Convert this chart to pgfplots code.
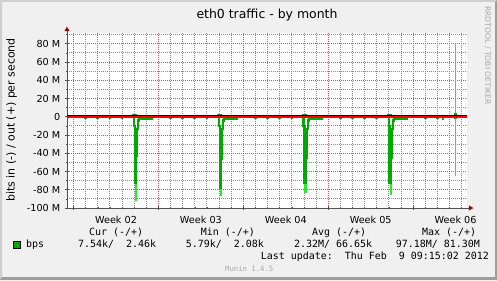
\documentclass[border=0pt]{standalone}
\usepackage{fontspec}
\setmainfont{DejaVu Sans}
\newfontfamily\monofont{DejaVu Sans Mono}
\usepackage{pgfplots}
\pgfplotsset{compat=1.18}
\usetikzlibrary{arrows.meta}
\definecolor{bgc}{HTML}{F0F0F0}
\definecolor{shadea}{HTML}{CFCFCF}
\definecolor{shadeb}{HTML}{9E9E9E}
\definecolor{mgrid}{HTML}{E05050}
\definecolor{gridc}{HTML}{8C8C8C}
\definecolor{axc}{HTML}{555050}
\definecolor{arrowc}{HTML}{A00000}
\definecolor{dkgreen}{HTML}{00AA00}
\definecolor{ltgreen}{HTML}{22EE22}
\definecolor{fontgray}{HTML}{A8A8A8}
\begin{document}
\begin{tikzpicture}[x=1bp,y=1bp]
\fill[bgc] (0,0) rectangle (497,280);
\fill[shadea] (0,0) -- (0,280) -- (497,280) -- (495,278) -- (2,278) -- (2,3) -- cycle;
\fill[shadeb] (0,0) -- (497,0) -- (497,280) -- (495,278) -- (495,3) -- (2,3) -- cycle;
\fill[white] (67,72) rectangle (467,246.9);
\begin{axis}[
  at={(67bp,72bp)}, anchor=south west,
  scale only axis, width=400bp, height=175bp,
  xmin=0, xmax=32.98, ymin=-100, ymax=91.8,
  axis x line*=bottom, axis y line*=left,
  axis line style={draw=axc, line width=0.8bp},
  x axis line style={shorten >=-6.3bp, -{Triangle[length=4.5bp,width=5bp,color=arrowc]}},
  y axis line style={shorten >=-6.3bp, -{Triangle[length=4.5bp,width=5bp,color=arrowc]}},
  xtick={0.54,7.54,14.54,21.54,28.54}, xticklabels={},
  minor xtick={1.54,2.54,3.54,4.54,5.54,6.54,8.54,9.54,10.54,11.54,12.54,13.54,15.54,16.54,17.54,18.54,19.54,20.54,22.54,23.54,24.54,25.54,26.54,27.54,29.54,30.54,31.54,32.54},
  extra x ticks={4.04,11.04,18.04,25.04,32.04},
  extra x tick labels={Week 02,Week 03,Week 04,Week 05,Week 06},
  extra x tick style={xmajorgrids=false, major tick length=0pt},
  ytick={-100,-80,-60,-40,-20,0,20,40,60,80},
  yticklabels={-100 M,-80 M,-60 M,-40 M,-20 M,0\hspace{5bp},20 M,40 M,60 M,80 M},
  minor ytick={-90,-70,-50,-30,-10,10,30,50,70,90},
  xmajorgrids=true, xminorgrids=true, ymajorgrids=true, yminorgrids=true,
  major grid style={draw=mgrid, dash pattern=on 1bp off 1bp, line width=1bp},
  minor grid style={draw=gridc, dash pattern=on 1bp off 1bp, line width=1bp},
  tick align=center, major tick length=4bp, minor tick length=2.5bp,
  tick style={draw=axc, line width=0.6bp},
  ticklabel style={font=\fontsize{9.7}{11}\selectfont, text=black, inner sep=0pt},
  yticklabel style={xshift=-4.5bp},
  xticklabel style={yshift=-8bp},
]
% bright (max) parts
\addplot[ltgreen, line width=2.2bp, forget plot, unbounded coords=jump] coordinates {
(5.70,-64) (5.70,-92) (5.70,nan)
(12.67,-72) (12.67,-87) (12.67,nan)
(19.67,-68) (19.67,-84) (19.67,nan)
(26.69,-68) (26.69,-86)
};
\addplot[ltgreen, line width=1.5bp, forget plot] coordinates {(32.03,81.3) (32.03,-65.4)};
% in (negative)
\addplot[dkgreen, line width=2.2bp, forget plot] coordinates {
(0,0)
(1.52,0)(1.52,-1.2)(1.56,-1.2)(1.56,0)
(2.52,0)(2.52,-1.2)(2.56,-1.2)(2.56,0)
(3.52,0)(3.52,-1.2)(3.56,-1.2)(3.56,0)
(4.52,0)(4.52,-1.2)(4.56,-1.2)(4.56,0)
(5.525,0)(5.525,-10)(5.607,-10)(5.607,-73)(5.69,-73)(5.69,-43)(5.79,-43)(5.79,-13)(5.87,-13)(5.87,-4)(5.95,-4)(5.95,-2)(7.02,-2)(7.02,0)
(8.52,0)(8.52,-1.2)(8.56,-1.2)(8.56,0)
(9.52,0)(9.52,-1.2)(9.56,-1.2)(9.56,0)
(10.52,0)(10.52,-1.2)(10.56,-1.2)(10.56,0)
(11.52,0)(11.52,-1.2)(11.56,-1.2)(11.56,0)
(12.50,0)(12.50,-10)(12.582,-10)(12.582,-78)(12.665,-78)(12.665,-46)(12.765,-46)(12.765,-13)(12.845,-13)(12.845,-4)(12.925,-4)(12.925,-2)(13.995,-2)(13.995,0)
(15.52,0)(15.52,-1.2)(15.56,-1.2)(15.56,0)
(16.52,0)(16.52,-1.2)(16.56,-1.2)(16.56,0)
(17.52,0)(17.52,-1.2)(17.56,-1.2)(17.56,0)
(18.52,0)(18.52,-1.2)(18.56,-1.2)(18.56,0)
(19.50,0)(19.50,-10)(19.582,-10)(19.582,-73)(19.665,-73)(19.665,-45)(19.765,-45)(19.765,-13)(19.845,-13)(19.845,-4)(19.925,-4)(19.925,-2)(20.995,-2)(20.995,0)
(22.52,0)(22.52,-1.2)(22.56,-1.2)(22.56,0)
(23.52,0)(23.52,-1.2)(23.56,-1.2)(23.56,0)
(24.52,0)(24.52,-1.2)(24.56,-1.2)(24.56,0)
(25.52,0)(25.52,-1.2)(25.56,-1.2)(25.56,0)
(26.515,0)(26.515,-10)(26.597,-10)(26.597,-73)(26.68,-73)(26.68,-45)(26.78,-45)(26.78,-13)(26.86,-13)(26.86,-4)(26.94,-4)(26.94,-2)(28.01,-2)(28.01,0)
(29.52,0)(29.52,-1.2)(29.56,-1.2)(29.56,0)
(30.52,0)(30.52,-1.2)(30.56,-1.2)(30.56,0)
(30.97,0)(30.97,-2.5)(31.03,-2.5)(31.03,0)
(32.98,0)
};
% out (positive)
\addplot[dkgreen, line width=2.2bp, forget plot] coordinates {
(0,0)
(5.48,0)(5.48,2)(5.70,2)(5.70,0)
(12.455,0)(12.455,2)(12.675,2)(12.675,0)
(19.455,0)(19.455,2)(19.675,2)(19.675,0)
(26.47,0)(26.47,2)(26.69,2)(26.69,0)
(32.98,0)
};
\addplot[dkgreen, line width=3.8bp, forget plot] coordinates {(32.03,4.4) (32.03,-2.6)};
% zero lines
\addplot[black, line width=1.0bp, forget plot] coordinates {(0,1.2) (32.98,1.2)};
\addplot[red, line width=1.5bp, forget plot] coordinates {(0,-0.4) (32.98,-0.4)};
\end{axis}
% title and labels
\node[anchor=base, font=\fontsize{12.5}{14}\selectfont] at (267,261.7) {eth0 traffic - by month};
\node[anchor=base, rotate=90, font=\fontsize{11}{13}\selectfont] at (14.5,160) {bits in (-) / out (+) per second};
\node[anchor=base west, rotate=-90, font=\fontsize{7.7}{9}\selectfont, text=fontgray, inner sep=0pt] at (485,274) {RRDTOOL / TOBI OETIKER};
% legend
\begin{scope}[every node/.style={anchor=base west, inner sep=0pt, font=\monofont\fontsize{10}{12}\selectfont}]
\node at (89,44.3) {Cur (-/+)};
\node at (200.7,44.3) {Min (-/+)};
\node at (312,44.3) {Avg (-/+)};
\node at (422,44.3) {Max (-/+)};
\fill[dkgreen, draw=black, line width=0.7bp] (13.3,31.7) rectangle (20.7,38.3);
\node at (26,33) {bps};
\node at (78,32.7) {7.54k/\ \ 2.46k};
\node at (185.7,32.7) {5.79k/\ \ 2.08k};
\node at (294,32.7) {2.32M/ 66.65k};
\node at (395.7,32.7) {97.18M/ 81.30M};
\node at (260.7,20.5) {Last update:\ \ Thu Feb\ \ 9 09:15:02 2012};
\node[font=\monofont\fontsize{7.3}{9}\selectfont, text=fontgray] at (225,9) {Munin 1.4.5};
\end{scope}
\pgfresetboundingbox
\useasboundingbox (0,0) rectangle (497,280);
\end{tikzpicture}
\end{document}
